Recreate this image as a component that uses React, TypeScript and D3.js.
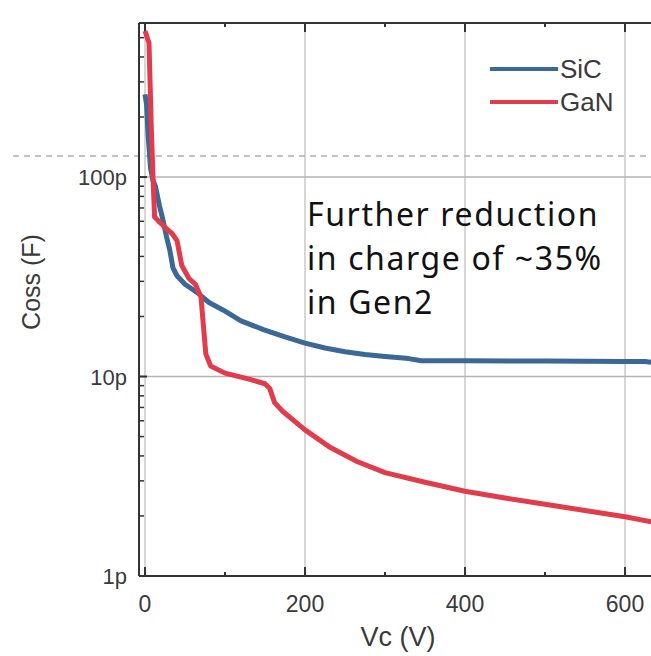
import React from "react";
import * as d3 from "d3";

// Vc in volts, Coss in pF
const sicData: [number, number][] = [
    [0, 260], [2, 230], [4, 160], [7, 110], [10, 96], [13, 90], [18, 72],
    [22, 62], [27, 50], [31, 43], [35, 35], [40, 32], [50, 29], [65, 26.4],
    [80, 23.5], [98, 21.5], [120, 19], [148, 17.2], [175, 15.8], [200, 14.7],
    [225, 13.9], [250, 13.3], [275, 12.9], [300, 12.6], [330, 12.3],
    [345, 12.0], [400, 12.0], [500, 11.95], [600, 11.9], [625, 11.9], [645, 11.6]
];

const ganData: [number, number][] = [
    [0, 540], [5, 470], [8, 170], [10, 100], [12, 63], [19, 59], [25, 56],
    [34, 52], [40, 48], [46, 36], [55, 31], [63, 29], [70, 25], [73, 18],
    [76, 13], [82, 11.3], [100, 10.4], [130, 9.7], [150, 9.2], [156, 8.7],
    [162, 7.4], [172, 6.7], [200, 5.4], [230, 4.45], [265, 3.75], [300, 3.3],
    [350, 2.95], [400, 2.66], [450, 2.46], [500, 2.29], [550, 2.13],
    [600, 1.98], [645, 1.83]
];

const xTicks = [0, 200, 400, 600];
const xMinorTicks = [100, 300, 500];
const yTicks = [1, 10, 100];
const yTickLabels = ["1p", "10p", "100p"];
const seriesNames = ["SiC", "GaN"];
const annotation = ["Further reduction", "in charge of ~35%", "in Gen2"];

const colors = { SiC: "#3b6894", GaN: "#e23b4b" };

const App = () => {
    const layout = { width: 651, height: 656, left: 139, right: 660, top: 23, bottom: 576 };

    const xScale = d3.scaleLinear().domain([-7.5, 643.75]).range([layout.left, layout.right]);
    const yScale = d3.scaleLog().domain([1, 592]).range([layout.bottom, layout.top]);

    const lineGenerator = d3.line<[number, number]>()
        .x(d => xScale(d[0]))
        .y(d => yScale(d[1]));

    // minor log ticks between decades
    const yMinor: number[] = [];
    [1, 10, 100].forEach(dec => {
        for (let i = 2; i <= 9; i++) {
            if (dec * i < 592) yMinor.push(dec * i);
        }
    });

    const axisFont = "'Liberation Sans', Arial, sans-serif";

    return (
        <svg
            width={layout.width}
            height={layout.height}
            style={{ position: "absolute", left: 0, top: 0, background: "#fff" }}
        >
            <defs>
                <clipPath id="plot-clip">
                    <rect
                        x={layout.left}
                        y={layout.top}
                        width={layout.right - layout.left}
                        height={layout.bottom - layout.top}
                    />
                </clipPath>
            </defs>

            {/* grid */}
            {xTicks.map(t => (
                <line
                    key={"gx" + t}
                    x1={xScale(t)}
                    x2={xScale(t)}
                    y1={layout.top}
                    y2={layout.bottom}
                    stroke="#c8c8c8"
                    strokeWidth={1.5}
                />
            ))}
            {[10, 100].map(t => (
                <line
                    key={"gy" + t}
                    x1={layout.left}
                    x2={layout.right}
                    y1={yScale(t)}
                    y2={yScale(t)}
                    stroke="#b4b4b4"
                    strokeWidth={1.5}
                />
            ))}

            {/* dashed reference line */}
            <line
                x1={13}
                x2={layout.width}
                y1={156}
                y2={156}
                stroke="#b0b0b0"
                strokeWidth={1.5}
                strokeDasharray="6,5"
            />

            {/* frame */}
            <line x1={layout.left} x2={layout.right} y1={layout.top} y2={layout.top} stroke="#333" strokeWidth={2} />
            <line x1={layout.left} x2={layout.right} y1={layout.bottom} y2={layout.bottom} stroke="#333" strokeWidth={2} />
            <line x1={layout.left} x2={layout.left} y1={layout.top} y2={layout.bottom} stroke="#333" strokeWidth={2} />

            {/* x ticks, bottom and top */}
            {xTicks.map(t => (
                <g key={"xt" + t}>
                    <line x1={xScale(t)} x2={xScale(t)} y1={layout.bottom} y2={layout.bottom - 9} stroke="#333" strokeWidth={2} />
                    <line x1={xScale(t)} x2={xScale(t)} y1={layout.top} y2={layout.top + 9} stroke="#333" strokeWidth={2} />
                    <text
                        x={xScale(t)}
                        y={612}
                        textAnchor="middle"
                        fontFamily={axisFont}
                        fontSize={23}
                        fill="#3a3a3a"
                    >
                        {t}
                    </text>
                </g>
            ))}
            {xMinorTicks.map(t => (
                <g key={"xm" + t}>
                    <line x1={xScale(t)} x2={xScale(t)} y1={layout.bottom} y2={layout.bottom - 4} stroke="#333" strokeWidth={2} />
                    <line x1={xScale(t)} x2={xScale(t)} y1={layout.top} y2={layout.top + 4} stroke="#333" strokeWidth={2} />
                </g>
            ))}

            {/* y ticks */}
            {yTicks.map((t, i) => (
                <g key={"yt" + t}>
                    <line x1={layout.left} x2={layout.left + 8} y1={yScale(t)} y2={yScale(t)} stroke="#333" strokeWidth={2} />
                    <text
                        x={127}
                        y={yScale(t) + 8}
                        textAnchor="end"
                        fontFamily={axisFont}
                        fontSize={22}
                        fill="#3a3a3a"
                    >
                        {yTickLabels[i]}
                    </text>
                </g>
            ))}
            {yMinor.map(t => (
                <line
                    key={"ym" + t}
                    x1={layout.left}
                    x2={layout.left + 5}
                    y1={yScale(t)}
                    y2={yScale(t)}
                    stroke="#333"
                    strokeWidth={1.5}
                />
            ))}

            {/* axis titles */}
            <text
                x={398}
                y={646}
                textAnchor="middle"
                fontFamily={axisFont}
                fontSize={27}
                fill="#3a3a3a"
            >
                Vc (V)
            </text>
            <text
                transform="translate(40,282) rotate(-90)"
                textAnchor="middle"
                fontFamily={axisFont}
                fontSize={25}
                fill="#3a3a3a"
            >
                Coss (F)
            </text>

            {/* data */}
            <g clipPath="url(#plot-clip)">
                <path d={lineGenerator(sicData) || ""} fill="none" stroke={colors.SiC} strokeWidth={5} strokeLinejoin="round" />
                <path d={lineGenerator(ganData) || ""} fill="none" stroke={colors.GaN} strokeWidth={5} strokeLinejoin="round" />
            </g>

            {/* legend */}
            {seriesNames.map((name, i) => (
                <g key={name} transform={`translate(490, ${69 + i * 33})`}>
                    <line x1={0} x2={68} y1={0} y2={0} stroke={colors[name as "SiC" | "GaN"]} strokeWidth={4} />
                    <text x={70} y={9} fontFamily={axisFont} fontSize={26} fill="#3a3a3a">
                        {name}
                    </text>
                </g>
            ))}

            {/* annotation */}
            {annotation.map((line, i) => (
                <text
                    key={line}
                    x={307}
                    y={226 + i * 44}
                    fontFamily="'Noto Sans', sans-serif"
                    fontSize={32}
                    letterSpacing={1.6}
                    fill="#111"
                >
                    {line}
                </text>
            ))}
        </svg>
    );
};

export default App;
